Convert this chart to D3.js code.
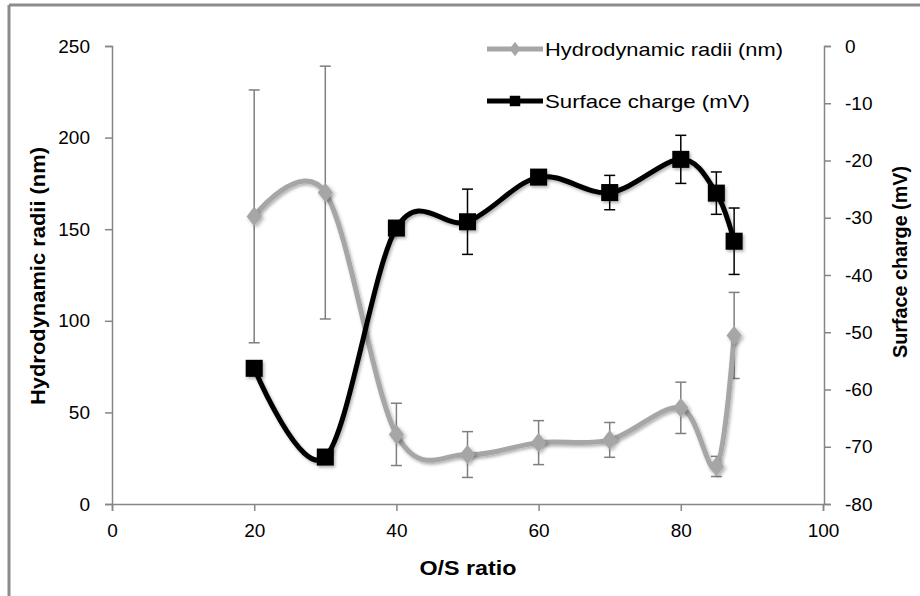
<!DOCTYPE html>
<html>
<head>
<meta charset="utf-8">
<script src="https://cdn.jsdelivr.net/npm/d3@7"></script>
<style>
  body { margin: 0; background: #fff; }
  text { font-family: "Liberation Sans", Arial, sans-serif; }
</style>
</head>
<body>
<div id="chart"></div>
<script>
// data
var ratios = [20, 30, 40, 50, 60, 70, 80, 85, 87.5];
var radii = [157, 170, 38, 27, 33.5, 35, 52.5, 20.5, 92];
var radiiErr = [69, 69, 17, 12.5, 12, 9.5, 14, 5.5, 23.5];
var charge = [-56.3, -71.8, -31.8, -30.7, -22.9, -25.6, -19.8, -25.7, -34.1];
var chargeErr = [0, 0, 0, 5.7, 0, 3, 4.2, 3.7, 5.8];

var xTicks = [0, 20, 40, 60, 80, 100];
var leftTicks = [0, 50, 100, 150, 200, 250];
var rightTicks = [-80, -70, -60, -50, -40, -30, -20, -10, 0];

var width = 920;
var height = 596;
var axisColor = "#868686";

var svg = d3.select("#chart").append("svg")
  .attr("width", width)
  .attr("height", height);

// soft shadow like the excel effect
var defs = svg.append("defs");
var filt = defs.append("filter").attr("id", "shadow")
  .attr("x", "-20%").attr("y", "-20%").attr("width", "150%").attr("height", "150%");
filt.append("feDropShadow")
  .attr("dx", 1.5).attr("dy", 2)
  .attr("stdDeviation", 1.5)
  .attr("flood-color", "#000")
  .attr("flood-opacity", 0.3);

/* outer frame (only top and left visible) */
svg.append("line").attr("x1", 9).attr("x2", width).attr("y1", 5).attr("y2", 5)
  .attr("stroke", "#8c8c8c").attr("stroke-width", 3);
svg.append("line").attr("x1", 9).attr("x2", 9).attr("y1", 5).attr("y2", height)
  .attr("stroke", "#8c8c8c").attr("stroke-width", 3);

/* Scales */
var xScale = d3.scaleLinear().domain([0, 100]).range([112, 823]);
var yLeft = d3.scaleLinear().domain([0, 250]).range([504, 46]);
var yRight = d3.scaleLinear().domain([-80, 0]).range([504, 46]);

/* Axes - plain hyphen minus like the original */
var fmt = d => String(d);
var xAxis = d3.axisBottom(xScale).tickValues(xTicks).tickFormat(fmt).tickSize(7).tickPadding(13);
var lAxis = d3.axisLeft(yLeft).tickValues(leftTicks).tickFormat(fmt).tickSize(7).tickPadding(15);
var rAxis = d3.axisRight(yRight).tickValues(rightTicks).tickFormat(fmt).tickSize(7).tickPadding(14);

function styleAxis(g) {
  g.select(".domain").attr("stroke", axisColor).attr("stroke-width", 1.5);
  g.selectAll(".tick line").attr("stroke", axisColor).attr("stroke-width", 1.5);
  g.selectAll(".tick text")
    .attr("fill", "#000")
    .style("font-size", "19px")
    .style("font-family", "'Liberation Sans', Arial, sans-serif");
}

svg.append("g")
  .attr("class", "y axis")
  .attr("transform", "translate(112,0)")
  .call(lAxis)
  .call(styleAxis);

svg.append("g")
  .attr("class", "y2 axis")
  .attr("transform", "translate(824,0)")
  .call(rAxis)
  .call(styleAxis);

svg.append("g")
  .attr("class", "x axis")
  .attr("transform", "translate(0,504)")
  .call(xAxis)
  .call(styleAxis);

/* Axis titles */
svg.append("text")
  .attr("x", 468).attr("y", 575)
  .attr("text-anchor", "middle")
  .attr("textLength", 97).attr("lengthAdjust", "spacingAndGlyphs")
  .style("font-size", "21px").style("font-weight", "bold")
  .text("O/S ratio");

svg.append("text")
  .attr("transform", "translate(45,276) rotate(-90)")
  .attr("text-anchor", "middle")
  .attr("textLength", 258).attr("lengthAdjust", "spacingAndGlyphs")
  .style("font-size", "21px").style("font-weight", "bold")
  .text("Hydrodynamic radii (nm)");

svg.append("text")
  .attr("transform", "translate(907,262) rotate(-90)")
  .attr("text-anchor", "middle")
  .attr("textLength", 192).attr("lengthAdjust", "spacingAndGlyphs")
  .style("font-size", "21px").style("font-weight", "bold")
  .text("Surface charge (mV)");

/* series */
var greyData = ratios.map((r, i) => ({x: r, y: radii[i], e: radiiErr[i]}));
var blackData = ratios.map((r, i) => ({x: r, y: charge[i], e: chargeErr[i]}));

function drawSeries(data, yScale, color, errColor, marker, size) {
  var g = svg.append("g");
  // error bars
  var eb = g.selectAll(".err")
    .data(data.filter(d => d.e > 0)).enter()
    .append("g")
    .attr("stroke", errColor)
    .attr("stroke-width", 1.5);
  eb.append("line")
    .attr("x1", d => xScale(d.x)).attr("x2", d => xScale(d.x))
    .attr("y1", d => yScale(d.y - d.e)).attr("y2", d => yScale(d.y + d.e));
  eb.append("line")
    .attr("x1", d => xScale(d.x) - 5.5).attr("x2", d => xScale(d.x) + 5.5)
    .attr("y1", d => yScale(d.y + d.e)).attr("y2", d => yScale(d.y + d.e));
  eb.append("line")
    .attr("x1", d => xScale(d.x) - 5.5).attr("x2", d => xScale(d.x) + 5.5)
    .attr("y1", d => yScale(d.y - d.e)).attr("y2", d => yScale(d.y - d.e));

  var line = d3.line()
    .x(d => xScale(d.x))
    .y(d => yScale(d.y))
    .curve(d3.curveCardinal.tension(0));

  g.append("path")
    .datum(data)
    .attr("d", line)
    .attr("fill", "none")
    .attr("stroke", color)
    .attr("stroke-width", 5)
    .attr("stroke-linejoin", "round")
    .attr("filter", "url(#shadow)");

  g.selectAll(".mark")
    .data(data).enter()
    .append("path")
    .attr("d", d3.symbol().type(marker).size(size))
    .attr("transform", d => "translate(" + xScale(d.x) + "," + yScale(d.y) + ")" +
      (marker === d3.symbolDiamond ? " scale(1.35,1)" : ""))
    .attr("fill", color)
    .attr("filter", "url(#shadow)");
}

drawSeries(greyData, yLeft, "#a6a6a6", "#7f7f7f", d3.symbolDiamond, 110);
drawSeries(blackData, yRight, "#000", "#000", d3.symbolSquare, 290);

/* Legend */
var legend = [
  {name: "Hydrodynamic radii (nm)", color: "#a6a6a6", marker: d3.symbolDiamond, size: 60, y: 49, w: 238},
  {name: "Surface charge (mV)", color: "#000", marker: d3.symbolSquare, size: 110, y: 101, w: 205}
];
var lg = svg.selectAll(".legend")
  .data(legend).enter()
  .append("g")
  .attr("class", "legend");
lg.append("line")
  .attr("x1", 487).attr("x2", 543)
  .attr("y1", d => d.y).attr("y2", d => d.y)
  .attr("stroke", d => d.color)
  .attr("stroke-width", 5);
lg.append("path")
  .attr("d", d => d3.symbol().type(d.marker).size(d.size)())
  .attr("transform", d => "translate(515," + d.y + ")" + (d.marker === d3.symbolDiamond ? " scale(1.3,1)" : ""))
  .attr("fill", d => d.color);
lg.append("text")
  .attr("x", 545)
  .attr("y", d => d.y + 7)
  .attr("textLength", d => d.w).attr("lengthAdjust", "spacingAndGlyphs")
  .style("font-size", "19px")
  .text(d => d.name);
</script>
</body>
</html>
